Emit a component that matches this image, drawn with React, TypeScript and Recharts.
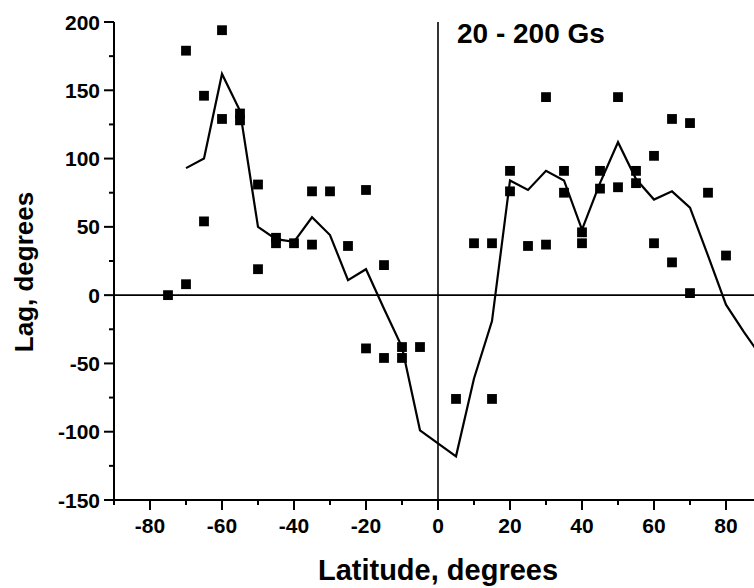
import React from "react";
import {
  ComposedChart,
  Line,
  Scatter,
  XAxis,
  YAxis,
  ZAxis,
  ReferenceLine,
} from "recharts";

// measured points (squares)
const pointLat = [
  -75, -70, -70, -65, -65, -60, -60, -55, -55, -50, -50, -45, -45, -40, -35, -35,
  -30, -25, -20, -20, -15, -15, -10, -10, -5, 5, 10, 15, 15, 20, 20, 25, 30, 30,
  35, 35, 40, 40, 45, 45, 50, 50, 55, 55, 60, 60, 65, 65, 70, 70, 75, 80,
];
const pointLag = [
  0, 179, 8, 146, 54, 194, 129, 133, 128, 81, 19, 42, 38, 38, 76, 37,
  76, 36, 77, -39, 22, -46, -38, -46, -38, -76, 38, 38, -76, 91, 76, 36, 145, 37,
  91, 75, 46, 38, 91, 78, 145, 79, 91, 82, 102, 38, 129, 24, 126, 1.5, 75, 29,
];

// smoothed curve
const curveLat = [
  -70, -65, -60, -55, -50, -45, -40, -35, -30, -25, -20, -15, -10, -5, 5, 10, 15,
  20, 25, 30, 35, 40, 45, 50, 55, 60, 65, 70, 75, 80, 85, 90,
];
const curveLag = [
  93, 100, 162, 135, 50, 41, 39, 57, 44, 11, 19, -10, -38, -99, -118, -61, -19,
  84, 77, 91, 84, 48, 82, 112, 85, 70, 76, 64, 29, -7, -27, -46,
];

const xTicks = [-90, -80, -70, -60, -50, -40, -30, -20, -10, 0, 10, 20, 30, 40, 50, 60, 70, 80, 90];
const yTicks = [-150, -125, -100, -75, -50, -25, 0, 25, 50, 75, 100, 125, 150, 175, 200];

const points = pointLat.map((x, i) => ({ x, y: pointLag[i] }));
const curve = curveLat.map((x, i) => ({ x, y: curveLag[i] }));

const FONT = "'Liberation Sans', Arial, sans-serif";

const XTick = (props: any) => {
  const { x, y, payload } = props;
  const major = payload.value % 20 === 0;
  return (
    <g>
      <line x1={x} x2={x} y1={y} y2={y + (major ? 10 : 5)} stroke="#000" strokeWidth={2} />
      {major && (
        <text x={x} y={y + 33} textAnchor="middle" fontFamily={FONT} fontWeight="bold" fontSize={21} fill="#000">
          {payload.value}
        </text>
      )}
    </g>
  );
};

const YTick = (props: any) => {
  const { x, y, payload } = props;
  const major = payload.value % 50 === 0;
  return (
    <g>
      <line x1={x} x2={x - (major ? 10 : 5)} y1={y} y2={y} stroke="#000" strokeWidth={2} />
      {major && (
        <text x={x - 14} y={y} dy="0.36em" textAnchor="end" fontFamily={FONT} fontWeight="bold" fontSize={21} fill="#000">
          {payload.value}
        </text>
      )}
    </g>
  );
};

export default function App() {
  return (
    <div style={{ position: "fixed", left: 0, top: 0, width: 754, height: 588, overflow: "hidden", background: "#fff" }}>
      <ComposedChart width={770} height={588} margin={{ top: 22, right: 8, bottom: 0, left: 0 }}>
        <XAxis
          type="number"
          dataKey="x"
          domain={[-90, 90]}
          ticks={xTicks}
          interval={0}
          tickSize={0}
          tickMargin={0}
          tickLine={false}
          tick={<XTick />}
          height={88}
          axisLine={{ stroke: "#000", strokeWidth: 2 }}
          allowDataOverflow
        />
        <YAxis
          type="number"
          dataKey="y"
          domain={[-150, 200]}
          ticks={yTicks}
          interval={0}
          tickSize={0}
          tickMargin={0}
          tickLine={false}
          tick={<YTick />}
          width={114}
          axisLine={{ stroke: "#000", strokeWidth: 2 }}
          allowDataOverflow
        />
        <ZAxis range={[96, 96]} />
        <ReferenceLine y={0} stroke="#000" strokeWidth={1.6} />
        <ReferenceLine x={0} stroke="#000" strokeWidth={1.6} />
        <Line
          data={curve}
          dataKey="y"
          type="linear"
          stroke="#000"
          strokeWidth={2.2}
          dot={false}
          activeDot={false}
          isAnimationActive={false}
        />
        <Scatter data={points} dataKey="y" fill="#000" shape="square" isAnimationActive={false} />
        <text x={457} y={43} fontFamily={FONT} fontWeight="bold" fontSize={28} fill="#000">
          20 - 200 Gs
        </text>
        <text x={438} y={580} textAnchor="middle" fontFamily={FONT} fontWeight="bold" fontSize={29} fill="#000">
          Latitude, degrees
        </text>
        <text
          transform="translate(33,272) rotate(-90)"
          textAnchor="middle"
          fontFamily={FONT}
          fontWeight="bold"
          fontSize={26}
          fill="#000"
        >
          Lag, degrees
        </text>
      </ComposedChart>
    </div>
  );
}
